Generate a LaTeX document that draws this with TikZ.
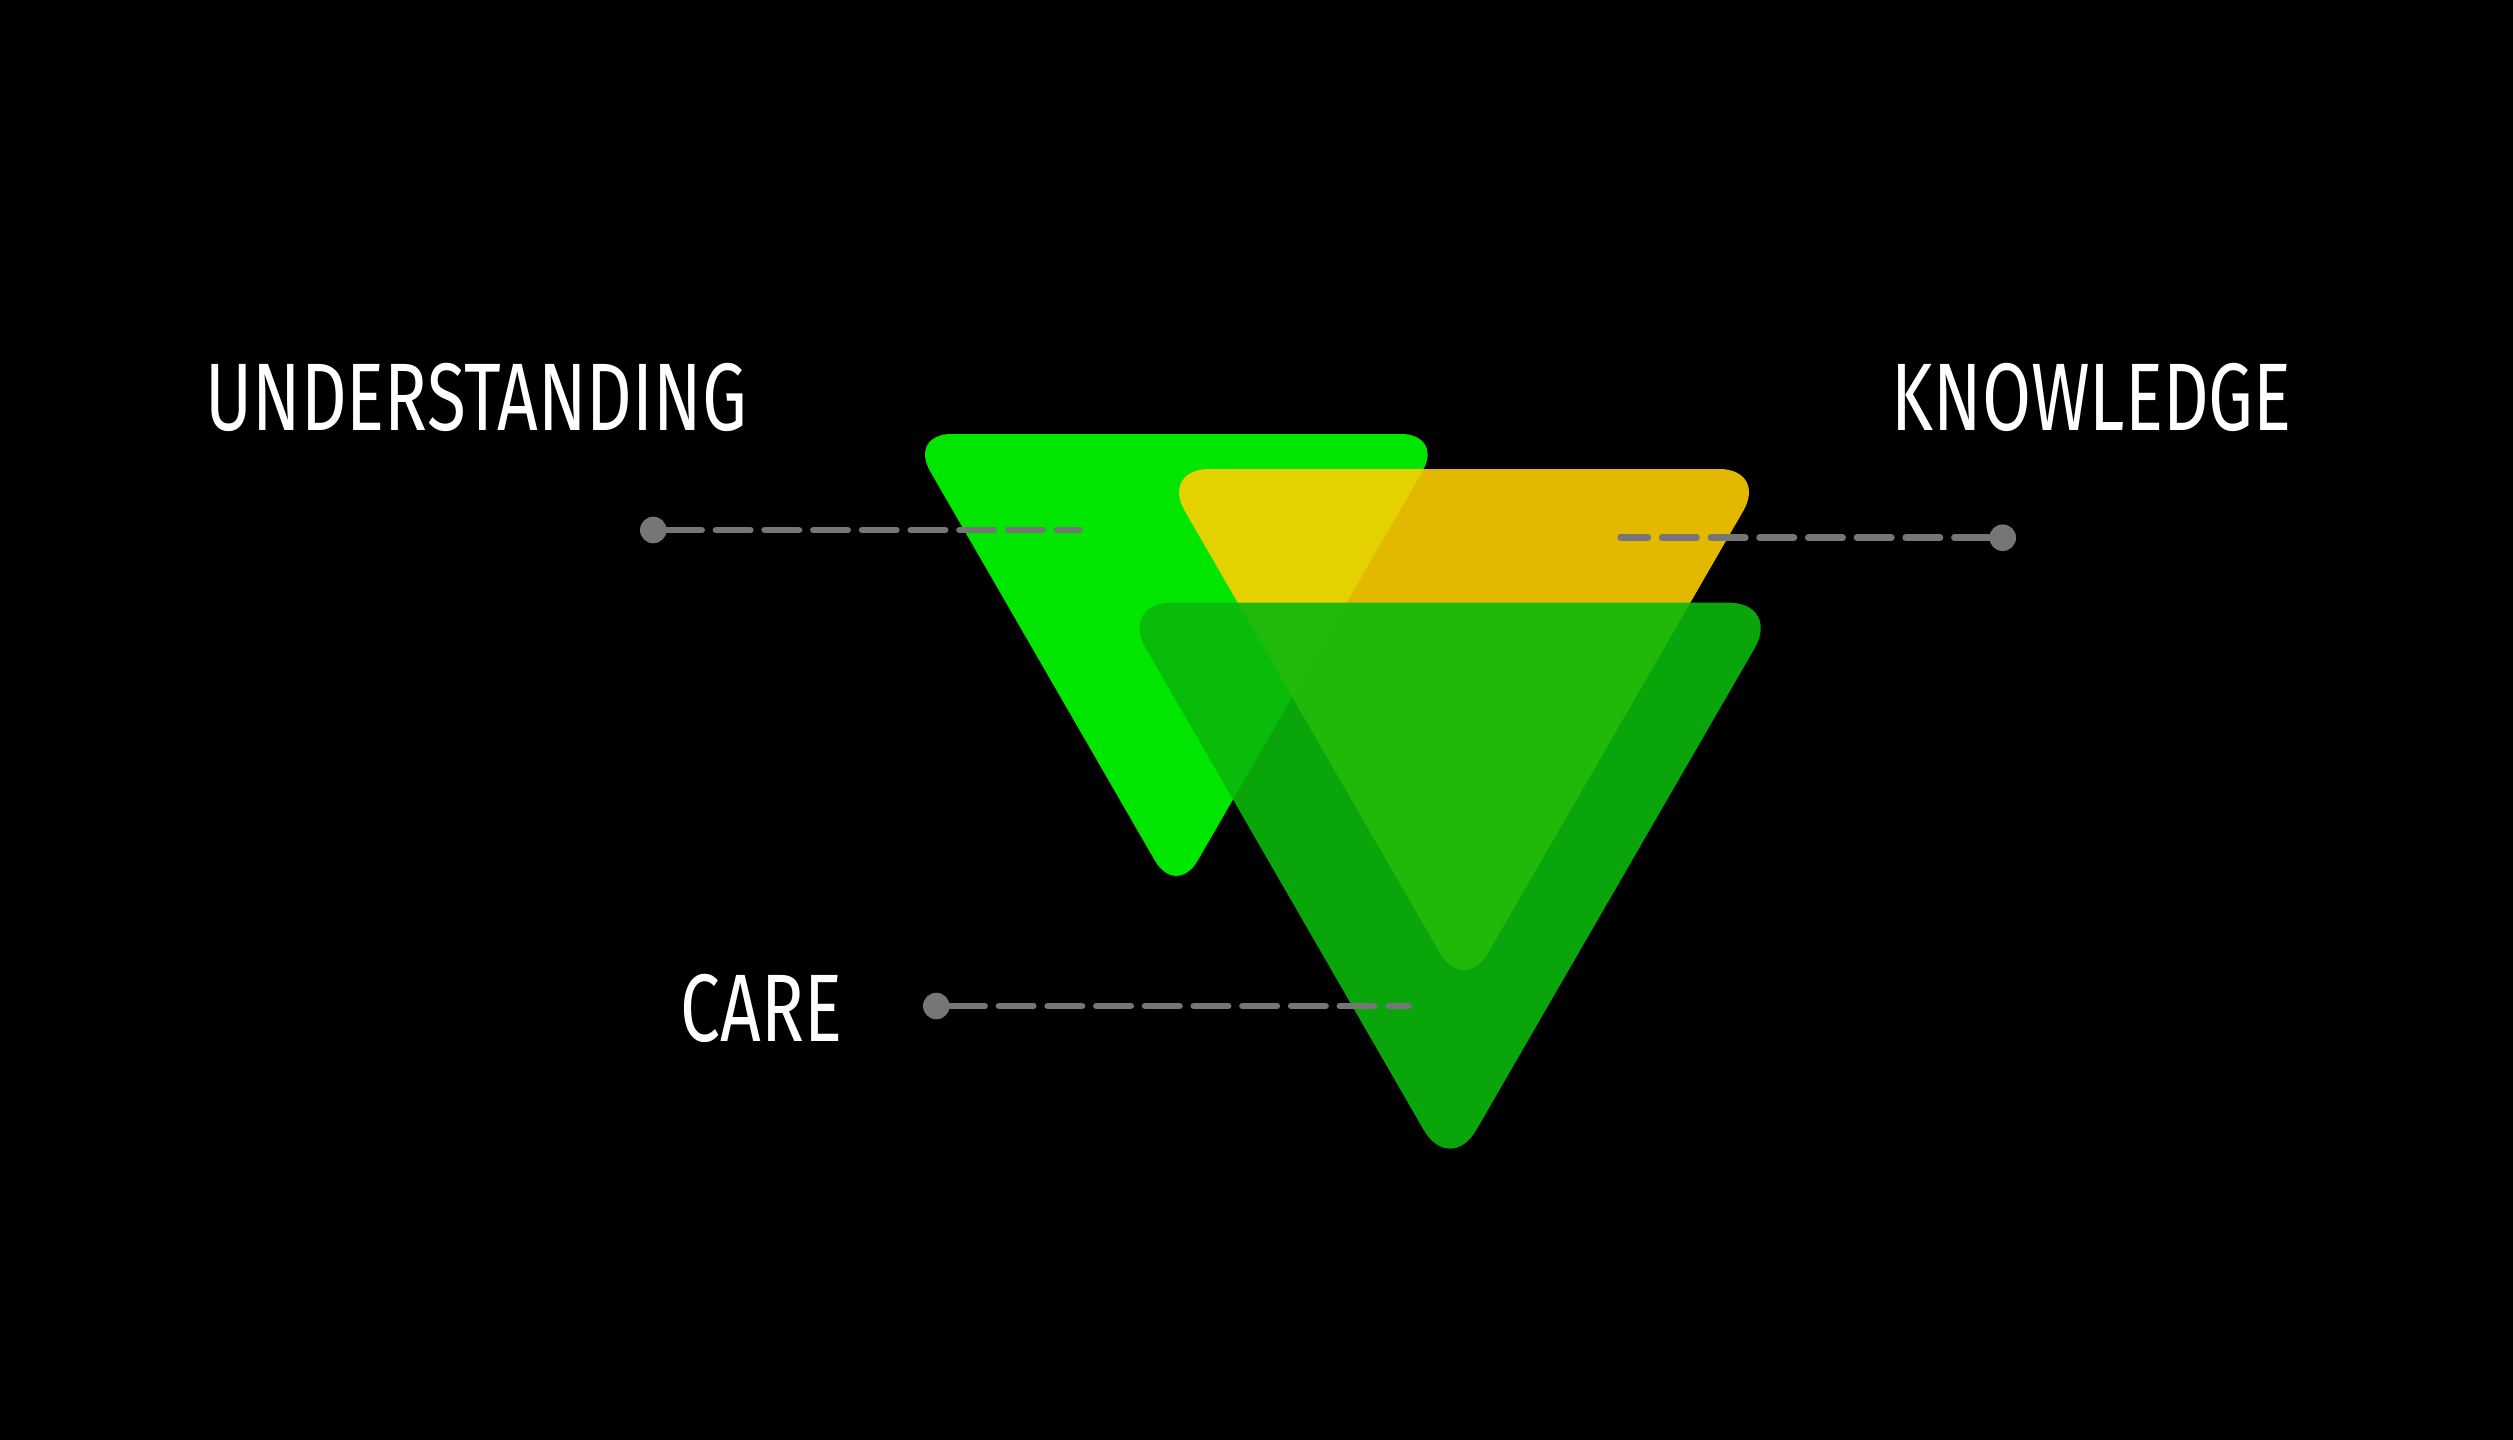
\documentclass[tikz,border=0pt]{standalone}
\usepackage{fontspec}
\newfontfamily\labelfont[FakeStretch=0.74]{Fira Sans}
\definecolor{brightgreen}{RGB}{0,230,0}
\definecolor{gold}{RGB}{255,207,0}
\definecolor{darkgreen}{RGB}{12,184,12}
\definecolor{leadergray}{RGB}{118,118,118}
\tikzset{
  word/.style={text=white,font=\labelfont\fontsize{27.3pt}{30pt}\selectfont,inner sep=0pt},
  dot/.style={circle,fill=leadergray,inner sep=0pt,minimum size=0.266cm},
  leader/.style={draw=leadergray,line width=0.67mm,line cap=round,dash pattern=on 3.43mm off 1.44mm}
}
\begin{document}
\begin{tikzpicture}[x=1cm,y=-1cm]
	\fill[black] (0,0) rectangle (25.13,14.40);
	\useasboundingbox (0,0) rectangle (25.13,14.40);
	% triangles
	\fill[brightgreen,rounded corners=0.43cm] (9.086,4.34)--(14.44,4.34)--(11.763,8.977)--cycle;
	\fill[gold,fill opacity=0.89,rounded corners=0.485cm] (11.606,4.69)--(17.675,4.69)--(14.64,9.946)--cycle;
	\fill[darkgreen,fill opacity=0.9,rounded corners=0.53cm] (11.195,6.026)--(17.81,6.026)--(14.50,11.755)--cycle;
	% labels
	\node[word,anchor=base west] (understanding) at (2.05,4.30) {UNDERSTANDING};
	\node[word,anchor=base west] (knowledge) at (18.91,4.30) {KNOWLEDGE};
	\node[word,anchor=base west] (care) at (6.80,10.417) {CARE};
	% leaders
	\node[dot] (udot) at (6.533,5.30) {};
	\node[dot] (kdot) at (20.027,5.377) {};
	\node[dot] (cdot) at (9.363,10.06) {};
	\coordinate (uend) at (10.794,5.30);
	\coordinate (kend) at (16.206,5.377);
	\coordinate (cend) at (14.085,10.06);
	\draw[leader] (udot)--(uend);
	\draw[leader] (kdot)--(kend);
	\draw[leader] (cdot)--(cend);
\end{tikzpicture}
\end{document}
